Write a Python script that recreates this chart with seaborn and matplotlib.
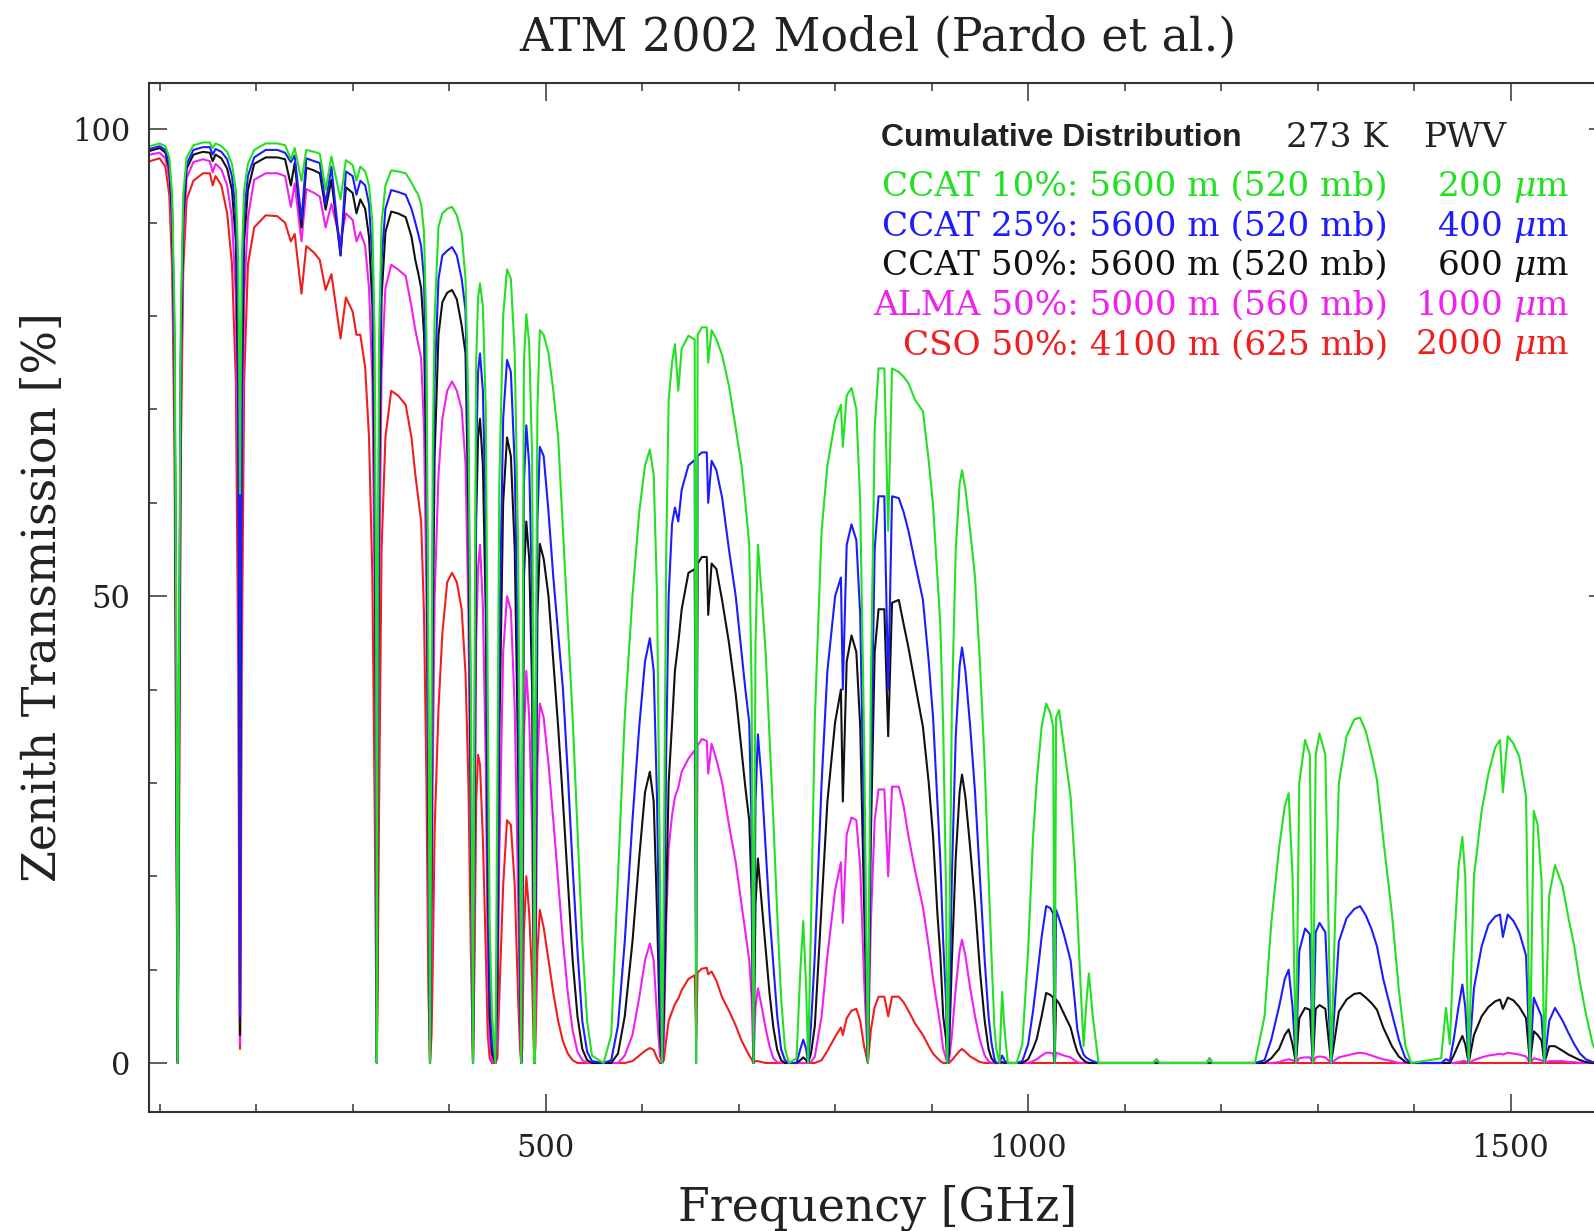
import matplotlib
matplotlib.use("Agg")
import matplotlib.pyplot as plt
from matplotlib.ticker import MultipleLocator, FixedLocator
import seaborn as sns
import pandas as pd

# ---------------- data ----------------
# one line per atmospheric window
freq_ghz = [
    90, 100, 106, 110, 113, 115.5, 117.3, 118.75, 120.2, 122, 124.5, 128,
    135, 145, 152, 155, 158, 164, 170, 175, 179, 181.5, 182.7, 183.3, 183.9, 185.1, 187.6, 191.5,
    198, 210, 222, 230, 236, 240, 247, 252, 260, 266, 272, 278, 287.5, 293, 300, 304, 308, 313, 317, 320.5, 322.8, 324.3, 325.15, 326.0, 327.5,
    330, 334, 340, 347, 355, 361, 365, 368, 371, 374, 376.5, 378.5, 380.2, 381.8,
    383, 385, 389, 393, 398, 403, 408, 413, 417, 420, 422.5, 424.76,
    426.5, 428, 430, 432, 435, 438, 440, 442, 444.5, 448,
    450, 452, 456, 460, 464, 468, 471.5, 473.5, 474.7,
    475.8, 477.5, 480, 483, 486, 487.6, 488.5,
    489.5, 491.5, 494, 498, 503, 508, 513, 518, 523, 528, 533, 538, 543, 548, 560,
    568, 575, 582, 590, 597, 603, 608, 612, 615.5, 618.5, 620.7,
    622.5, 625, 627.5, 631, 634, 637.5, 641, 648, 654.5, 656, 657.5, 662, 667, 668.5, 672, 677, 683, 690, 697, 703, 707, 711, 713.5, 715.4, 717.5, 720, 724, 728, 732, 736, 740, 744, 748, 752,
    760, 764, 767, 770, 772,
    775, 779, 786, 792, 800, 806, 808, 812, 817, 822, 826, 830, 834,
    837, 841, 845, 851, 855, 859, 866, 871, 876, 883, 891, 897, 901.5, 906, 909, 912, 915, 916.2,
    918, 921, 925, 929, 931.5, 935, 940, 945, 950, 955, 959, 962, 965, 967, 970.3, 973, 976, 979, 988,
    994, 1000, 1005, 1009, 1014, 1018.7, 1023, 1026, 1027.5, 1029, 1032, 1037, 1044, 1048, 1051, 1054.5, 1057.5, 1060, 1063, 1067, 1073, 1130, 1133, 1136, 1185, 1188, 1191, 1235,
    1245, 1252, 1260, 1266, 1270, 1274, 1277.5, 1281, 1287, 1292, 1295, 1298, 1302, 1308, 1314, 1322, 1330, 1338, 1344, 1350, 1356, 1361.5, 1368, 1377, 1384, 1391, 1397,
    1428, 1433, 1437, 1441, 1446, 1450, 1453, 1456.5, 1462, 1470, 1477, 1484, 1489, 1492, 1497, 1503, 1509, 1516, 1520, 1524, 1528, 1532, 1535, 1540, 1546, 1554, 1560, 1566, 1572, 1578, 1585, 1595,
]

# CCAT 10% (200 um PWV) - green
trans_ccat10 = [
    98.2, 98.5, 98.2, 97.0, 93.0, 80, 45, 0, 45, 80, 93, 97,
    98.3, 98.6, 98.6, 98.0, 98.5, 98.2, 97.6, 96.3, 93.5, 86, 72, 61, 72, 86, 93.5, 96.3,
    97.8, 98.5, 98.5, 98.3, 96.8, 98.0, 94.5, 97.8, 97.6, 97.4, 93.5, 97.1, 92.5, 96.7, 96.2, 94.5, 96.0, 95.5, 94.0, 90.0, 78, 50, 0, 50, 78,
    90, 94, 95.6, 95.5, 95.3, 94.3, 93.5, 93, 92, 89, 78, 45, 0, 40,
    65, 80, 89.6, 91, 91.5, 91.7, 90.8, 88.8, 84, 70, 40, 0,
    45, 75, 82, 83.5, 81, 70, 40, 15, 5, 0,
    30, 62, 80, 85, 84, 76, 55, 28, 0,
    30, 75, 80.2, 77, 65, 35, 0,
    35, 70, 78.5, 78, 76, 72, 67, 57, 47, 37, 25, 13, 4.5, 0.8, 0,
    3, 20, 37, 50, 59, 64, 65.7, 63, 50, 20, 0,
    20, 55, 71, 75, 77, 72, 76.5, 77.9, 77.5, 0, 78, 78.8, 78.8, 75, 78.5, 77.5, 75.8, 72.5, 68, 64, 60, 55.5, 40, 0, 45, 55.5, 50, 44, 35, 26, 16, 7, 1.6, 0,
    0.5, 10, 15.2, 8, 0,
    15, 37, 57, 64, 68.8, 70.5, 66, 71.5, 72.3, 70, 60, 35, 0,
    40, 68, 74.4, 74.4, 57, 74.4, 74, 73.5, 72.8, 71, 69.8, 64.5, 59.7, 52, 47, 36, 18, 0,
    10, 38, 55, 62, 63.5, 61.5, 57, 52, 43, 32, 20, 11.6, 4, 1.5, 0, 7.6, 3, 0, 0,
    2, 12, 24, 30.3, 36, 38.5, 37.5, 36, 0, 37, 37.8, 34, 28.5, 22, 16, 8, 1.8, 6, 9.6, 5, 0, 0, 0.4, 0, 0, 0.5, 0, 0,
    5, 15, 23, 27.5, 28.9, 20, 0, 30, 34.6, 33, 0, 33, 35.3, 33, 0, 30, 35, 36.8, 37, 35.5, 33, 30.3, 24, 16, 8, 1.8, 0,
    0.5, 5.9, 2, 12, 21, 24.2, 20, 0, 20, 27, 31, 33.8, 34.6, 29, 35, 34.2, 32.8, 28.5, 0, 27, 25.5, 19.6, 0, 18, 21.2, 18.9, 15.5, 12.5, 8.5, 5.3, 2, 0,
]

# CCAT 25% (400 um PWV) - blue
trans_ccat25 = [
    97.9, 98.2, 97.8, 96.3, 91.5, 77, 40, 0, 40, 77, 91.5, 96.3,
    97.8, 98.1, 98.1, 97.3, 97.9, 97.6, 96.8, 95.0, 91.0, 79, 45, 5, 45, 79, 91, 95,
    97.0, 97.8, 97.8, 97.5, 96.5, 97.2, 90.3, 96.9, 96.6, 96.4, 92.0, 96.0, 86.5, 95.5, 95.0, 93.0, 94.5, 94.0, 92.0, 86.0, 70, 38, 0, 38, 70,
    86, 91.5, 93.5, 93.3, 93.0, 91.5, 90, 88.8, 87.5, 84, 70, 35, 0, 30,
    55, 73, 84, 86.5, 87, 87.4, 86.5, 84, 80.6, 65, 35, 0,
    35, 65, 74, 76, 72, 58, 28, 8, 2, 0,
    15, 45, 69, 75.3, 74, 64, 42, 16, 0,
    20, 62, 68.3, 64, 50, 22, 0,
    22, 58, 66, 65, 59, 52, 46, 40, 31, 21, 12, 4.5, 1.2, 0.2, 0,
    0.3, 4, 13, 26, 36, 43, 45.5, 42, 28, 7, 0,
    10, 33.6, 50, 57.7, 59.5, 58, 61.4, 64, 64.6, 0, 65, 65.4, 65.4, 60, 64.5, 63.5, 60.5, 55, 50, 44, 40, 36.5, 25, 0, 28, 35.2, 30, 23, 16, 10.5, 5, 1.5, 0.3, 0,
    0, 1.5, 2.5, 1.5, 0,
    4, 11.6, 30, 42, 50, 52, 40, 55.5, 57.7, 56, 48, 25, 0,
    30, 55, 60.7, 60.7, 40, 60.7, 60.5, 59, 57, 53.5, 49.6, 43, 37, 28, 21.8, 13, 6.6, 0,
    3, 20, 35, 42.5, 44.5, 42, 36, 29, 20, 11, 5, 2.2, 0.5, 0, 0, 0.8, 0.2, 0, 0,
    0.2, 2, 5.5, 8.9, 13.5, 16.8, 16.6, 16, 0, 16.4, 15.5, 13.8, 11, 7, 3.6, 1.8, 0.9, 0.6, 0.4, 0.2, 0, 0, 0.4, 0, 0, 0.5, 0, 0,
    0.3, 2.5, 6, 9, 10, 6, 0, 12, 14.4, 13.8, 0, 14, 15, 14, 0, 13, 15.5, 16.5, 16.8, 15.8, 14.3, 12.5, 9, 5.3, 2.5, 0.5, 0,
    0, 0.4, 0.2, 2.5, 6, 8.4, 6, 0, 8, 12.5, 14.8, 15.7, 15.9, 13.5, 15.9, 15.2, 14, 11.5, 0, 7, 6, 5, 0, 4.5, 5.9, 4.5, 3.2, 2.0, 1.0, 0.4, 0.1, 0,
]

# CCAT 50% (600 um PWV) - black
trans_ccat50 = [
    97.7, 98.0, 97.5, 95.8, 90.5, 75, 37, 0, 37, 75, 90.5, 95.8,
    97.3, 97.6, 97.5, 96.6, 97.3, 96.9, 95.8, 93.5, 88.0, 71, 30, 3, 30, 71, 88, 93.5,
    96.3, 97.0, 97.0, 96.8, 94.0, 96.4, 89.5, 95.9, 95.6, 95.3, 91.4, 94.6, 86.5, 93.8, 93.2, 91.0, 92.5, 91.5, 88.5, 81.0, 62, 30, 0, 30, 62,
    82, 89, 91.2, 91.0, 90.6, 88.5, 86, 84.6, 83, 78, 62, 27, 0, 22,
    45, 65, 78, 81.5, 82.5, 82.8, 81.8, 79, 76, 58, 28, 0,
    28, 58, 67, 69, 64, 48, 20, 5, 1, 0,
    8, 35, 60, 67, 65, 55, 32, 10, 0,
    14, 52, 58, 54, 40, 15, 0,
    15, 48, 55.6, 54, 50, 43, 36, 28, 19.5, 11, 5, 1.5, 0.3, 0, 0,
    0, 1, 5, 13, 22, 29, 31.2, 28, 16, 3, 0,
    5, 17.6, 30, 36.3, 42, 45, 48.6, 52.5, 52.9, 18.7, 53.5, 54.2, 54.2, 48, 53.5, 52.9, 49.5, 45, 39.5, 33.5, 29.5, 26.0, 18, 0, 17, 21.9, 17, 12.3, 7.5, 3.8, 1.4, 0.3, 0, 0,
    0, 0.3, 0.6, 0.3, 0,
    1, 4, 17, 28, 36.5, 40, 28, 43, 45.8, 44, 36, 17, 0,
    24, 44, 48.6, 48.6, 35, 49.3, 49.6, 47, 44.5, 40.5, 36, 30, 24.3, 16, 11.6, 5, 2.5, 0,
    1, 11, 22, 29, 30.9, 28.5, 23, 17, 10, 4.5, 1.5, 0.5, 0.1, 0, 0, 0.1, 0, 0, 0,
    0, 0.4, 1.5, 2.6, 5, 7.5, 7.3, 7, 0, 6.8, 6.4, 5.3, 3.8, 2.2, 1.2, 0.6, 0.3, 0.1, 0, 0, 0, 0, 0, 0, 0, 0, 0, 0,
    0, 0.5, 1.5, 3, 3.6, 2, 0, 4.8, 5.9, 5.7, 0, 5.8, 6.2, 5.8, 0, 5.5, 6.8, 7.4, 7.5, 7.0, 6.4, 5.7, 3.8, 1.8, 0.7, 0.1, 0,
    0, 0, 0, 0.8, 2, 2.9, 2, 0, 3, 5, 6, 6.6, 6.8, 5.8, 7.0, 6.7, 6.0, 4.8, 0, 3.4, 3.0, 2.4, 0, 1.8, 1.8, 1.3, 0.9, 0.6, 0.3, 0.1, 0, 0,
]

# ALMA 50% (1000 um PWV) - magenta
trans_alma50 = [
    97.3, 97.5, 96.9, 94.8, 88.5, 71, 32, 0, 32, 71, 88.5, 94.8,
    96.5, 96.8, 96.6, 95.4, 96.3, 95.7, 94.0, 90.5, 82.0, 57, 16, 2, 16, 57, 82, 90.5,
    94.6, 95.3, 95.3, 95.0, 91.7, 94.2, 88.0, 93.6, 93.2, 92.8, 89.5, 92.0, 88.0, 91.0, 90.3, 88.0, 89.0, 87.5, 83.0, 73.0, 50, 20, 0, 20, 50,
    74, 83, 85.5, 85, 84.3, 81, 78.5, 77, 75.5, 68, 50, 18, 0, 12,
    30, 50, 63, 69, 72, 73, 72, 70, 64.2, 48, 20, 0,
    20, 45, 53, 55.5, 49, 32, 10, 2, 0.3, 0,
    3, 22, 44, 50, 48.5, 38, 18, 4, 0,
    6, 35, 42, 37, 25, 7, 0,
    7, 32, 38.5, 37, 32, 26, 19.5, 13, 7.5, 3.5, 1.2, 0.3, 0, 0, 0,
    0, 0, 0.8, 3, 7, 11, 12.8, 11, 5, 0.8, 0,
    2, 15, 23, 26.5, 28.5, 29.5, 31.2, 32.6, 33.5, 11.2, 34, 34.7, 34.5, 31, 34.2, 32.5, 30.0, 25.5, 21.5, 17, 14, 11.0, 7, 0, 6, 8, 6, 3.7, 1.8, 0.5, 0.1, 0, 0, 0,
    0, 0, 0, 0, 0,
    0.1, 0.7, 5, 11.5, 18.5, 21.5, 15, 24.5, 26.3, 26, 21, 9, 0,
    15, 26, 29.3, 29.3, 20, 29.6, 29.6, 27.5, 24.3, 20.5, 16.7, 12.5, 9, 6, 4, 1.5, 0.5, 0,
    0.2, 3, 8, 12, 13.2, 11.5, 8, 5, 2.5, 0.8, 0.2, 0, 0, 0, 0, 0, 0, 0, 0,
    0, 0, 0.2, 0.4, 0.8, 1.1, 1.1, 1.0, 0, 1.1, 1.0, 0.8, 0.6, 0.3, 0.1, 0, 0, 0, 0, 0, 0, 0, 0, 0, 0, 0, 0, 0,
    0, 0, 0.1, 0.3, 0.4, 0.3, 0, 0.5, 0.6, 0.6, 0, 0.6, 0.7, 0.6, 0, 0.6, 0.8, 1.0, 1.1, 1.0, 0.8, 0.6, 0.4, 0.2, 0, 0, 0,
    0, 0, 0, 0, 0.1, 0.2, 0.2, 0, 0.3, 0.6, 0.8, 0.9, 1.0, 0.9, 1.1, 1.0, 0.9, 0.7, 0, 0.5, 0.4, 0.3, 0, 0.2, 0.2, 0.2, 0.1, 0.1, 0, 0, 0, 0,
]

# CSO 50% (2000 um PWV) - red
trans_cso50 = [
    96.6, 96.9, 96.0, 93.0, 85.0, 65, 25, 0, 25, 65, 85, 92.5,
    94.5, 95.3, 95.3, 94.0, 95.0, 94.0, 91.0, 85.5, 73.0, 42, 8, 1.5, 8, 42, 73, 85.5,
    89.5, 90.8, 90.7, 90.0, 88.0, 88.8, 82.4, 87.5, 86.8, 86.0, 82.8, 84.5, 77.6, 82.0, 80.5, 78.0, 78.0, 74.5, 67.0, 52.0, 28, 9, 0.5, 9, 28,
    55, 67, 72, 71.5, 70.5, 67, 63, 60.5, 58, 48, 30, 8, 0, 3,
    10, 25, 38, 46, 51.5, 52.5, 51.5, 48.6, 41.7, 30, 12, 0,
    12, 28, 33, 32, 24, 12, 3, 0.5, 0, 0,
    0.5, 7, 19, 26, 25.5, 19, 7, 1.5, 0,
    1.5, 14, 20, 16, 9, 2, 0,
    2, 12, 16.4, 14.5, 11, 7.5, 4.5, 2.3, 1, 0.3, 0, 0, 0, 0, 0,
    0, 0, 0, 0.2, 0.8, 1.3, 1.6, 1.4, 0.5, 0, 0,
    0.3, 2.5, 4.5, 5.5, 6.3, 6.9, 7.8, 9.0, 9.4, 2.7, 9.7, 10.1, 10.2, 9.5, 9.8, 8.8, 7.0, 5.6, 4.0, 2.4, 1.6, 0.8, 0.4, 0, 0.2, 0.2, 0.1, 0, 0, 0, 0, 0, 0, 0,
    0, 0, 0, 0, 0,
    0, 0, 0.3, 1.3, 2.8, 3.8, 3.0, 4.8, 5.6, 5.8, 4.5, 1.8, 0,
    3.5, 6, 7.1, 7.1, 5, 7.1, 7.1, 6.5, 5.6, 4.2, 3.0, 1.8, 1.0, 0.5, 0.2, 0, 0, 0,
    0, 0.3, 0.8, 1.3, 1.5, 1.2, 0.7, 0.4, 0.1, 0, 0, 0, 0, 0, 0, 0, 0, 0, 0,
    0, 0, 0, 0, 0, 0, 0, 0, 0, 0, 0, 0, 0, 0, 0, 0, 0, 0, 0, 0, 0, 0, 0, 0, 0, 0, 0, 0,
    0, 0, 0, 0, 0, 0, 0, 0, 0, 0, 0, 0, 0, 0, 0, 0, 0, 0, 0, 0, 0, 0, 0, 0, 0, 0, 0,
    0, 0, 0, 0, 0, 0, 0, 0, 0, 0, 0, 0, 0, 0, 0, 0, 0, 0, 0, 0, 0, 0, 0, 0, 0, 0, 0, 0, 0, 0, 0, 0,
]

series_names = ["CSO 50%", "ALMA 50%", "CCAT 50%", "CCAT 25%", "CCAT 10%"]
series_values = [trans_cso50, trans_alma50, trans_ccat50, trans_ccat25, trans_ccat10]
series_colors = ["#f01e1e", "#f020f0", "#111111", "#1c1cff", "#22e022"]

legend_left = [
    "CCAT 10%: 5600 m (520 mb)",
    "CCAT 25%: 5600 m (520 mb)",
    "CCAT 50%: 5600 m (520 mb)",
    "ALMA 50%: 5000 m (560 mb)",
    "CSO 50%: 4100 m (625 mb)",
]
legend_right = [r"200 $\mu$m", r"400 $\mu$m", r"600 $\mu$m", r"1000 $\mu$m", r"2000 $\mu$m"]
legend_colors = ["#22e022", "#1c1cff", "#111111", "#f020f0", "#f01e1e"]

x_major_ticks = [500, 1000, 1500]
y_major_ticks = [0, 50, 100]

# ---------------- build table ----------------
for v in series_values:
    assert len(v) == len(freq_ghz), (len(v), len(freq_ghz))

frames = []
for name, vals in zip(series_names, series_values):
    frames.append(pd.DataFrame({"freq": freq_ghz, "trans": vals, "series": name}))
df = pd.concat(frames, ignore_index=True)

# ---------------- style ----------------
sns.set_style("ticks")
plt.rcParams["font.family"] = ["DejaVu Serif", "DejaVu Sans"]
plt.rcParams["mathtext.fontset"] = "dejavuserif"

W, H = 1594, 1231
fig = plt.figure(figsize=(W / 100, H / 100), dpi=100)
fig.patch.set_facecolor("white")

ax_left, ax_top, ax_bottom = 149, 82.7, 1112
x_lo, x_hi = 89, 1600
px_per_ghz = 0.965
ax_w = (x_hi - x_lo) * px_per_ghz
ax_h = ax_bottom - ax_top
ax = fig.add_axes([ax_left / W, (H - ax_bottom) / H, ax_w / W, ax_h / H])

sns.lineplot(data=df, x="freq", y="trans", hue="series", hue_order=series_names,
             palette=dict(zip(series_names, series_colors)), estimator=None,
             sort=False, legend=False, linewidth=1.5, ax=ax)

ax.set_xlim(x_lo, x_hi)
ax.set_ylim(-5.25, 105)

ax.xaxis.set_major_locator(FixedLocator(x_major_ticks))
ax.xaxis.set_minor_locator(MultipleLocator(100))
ax.yaxis.set_major_locator(FixedLocator(y_major_ticks))
ax.yaxis.set_minor_locator(MultipleLocator(10))
ax.tick_params(which="both", direction="in", top=True, right=True,
               colors="#333333", width=1.1)
ax.tick_params(which="major", length=13)
ax.tick_params(which="minor", length=6)
ax.tick_params(axis="x", which="major", labelsize=22, pad=15, labelcolor="#222222")
ax.tick_params(axis="y", which="major", labelsize=22, pad=13.5, labelcolor="#222222")
for s in ax.spines.values():
    s.set_linewidth(1.5)
    s.set_color("#333333")

ax.set_xlabel("Frequency [GHz]", fontsize=33, color="#222222", va="center")
ax.set_ylabel("Zenith Transmission [%]", fontsize=33, color="#222222", va="center")
ax.xaxis.set_label_coords(0.5, (ax_bottom - 1208) / ax_h)
ax.yaxis.set_label_coords((43.6 - ax_left) / ax_w, 0.5)
ax.set_title("ATM 2002 Model (Pardo et al.)", fontsize=33, color="#222222",
             y=(ax_bottom - 46.5) / ax_h, va="center")

# ---------------- legend block ----------------
fig.text(881 / W, 1 - 138 / H, "Cumulative Distribution", fontsize=23,
         fontweight="bold", family=["Liberation Sans", "DejaVu Sans"],
         color="#222222", ha="left", va="center")
fig.text(1388 / W, 1 - 138 / H, "273 K", fontsize=24.7, color="#222222",
         ha="right", va="center")
fig.text(1465 / W, 1 - 138 / H, "PWV", fontsize=24.7, color="#222222",
         ha="center", va="center")
for i, (lt, rt, c) in enumerate(zip(legend_left, legend_right, legend_colors)):
    yy = 187 + i * 39.6
    fig.text(1388 / W, 1 - yy / H, lt, fontsize=24.7, color=c, ha="right", va="center")
    fig.text(1569 / W, 1 - yy / H, rt, fontsize=24.7, color=c, ha="right", va="center")

fig.savefig("out.png", dpi=100, facecolor="white")
